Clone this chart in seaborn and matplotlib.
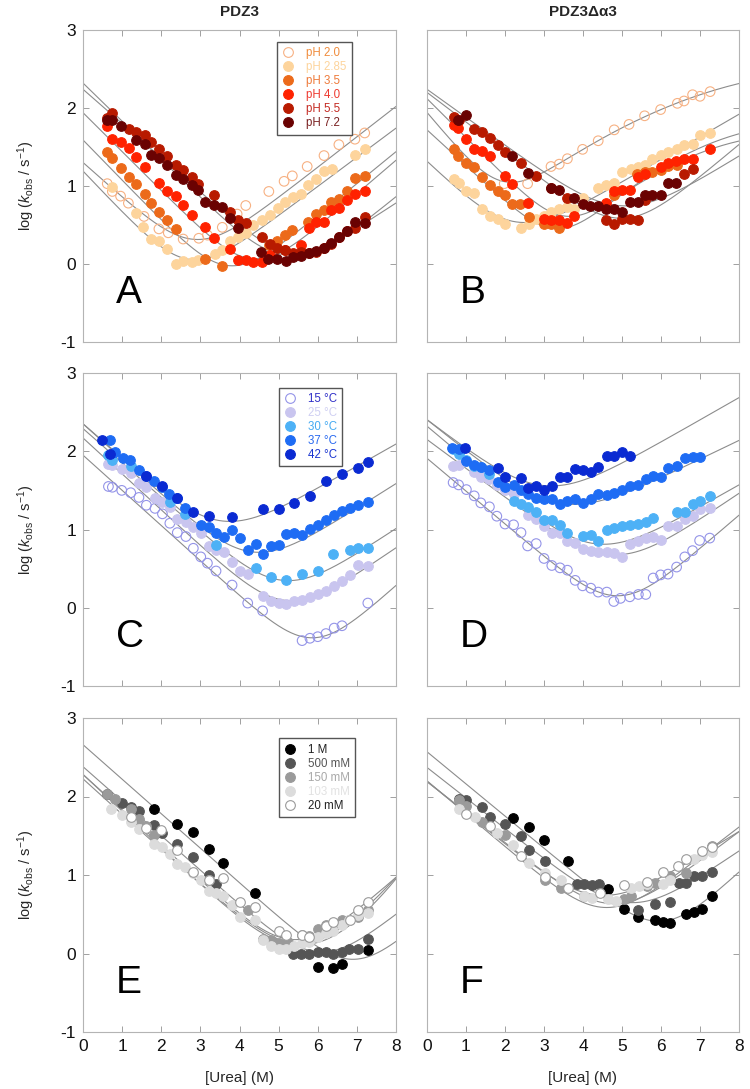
import numpy as np
import matplotlib
matplotlib.use("Agg")
import matplotlib.pyplot as plt
import seaborn as sns
from matplotlib.lines import Line2D

sns.set_theme(style="white")
plt.rcParams['font.family'] = ['Liberation Sans', 'DejaVu Sans']
plt.rcParams['mathtext.fontset'] = 'custom'
plt.rcParams['mathtext.rm'] = 'Liberation Sans'
plt.rcParams['mathtext.it'] = 'Liberation Sans:italic'

# ---------------- data: panel A (PDZ3, pH) ----------------
A_ph20_x = [0.62,0.75,0.96,1.16,1.56,1.94,2.18,2.56,2.96,3.18,3.56,3.94,4.16,4.75,5.14,5.35,5.73,6.16,6.54,6.95,7.20]
A_ph20_y = [1.03,0.93,0.87,0.78,0.61,0.45,0.40,0.32,0.33,0.37,0.47,0.64,0.75,0.93,1.06,1.13,1.25,1.39,1.53,1.60,1.68]
A_ph285_x = [0.75,1.36,1.53,1.75,1.94,2.15,2.37,2.56,2.78,2.95,3.37,3.56,3.75,3.97,4.16,4.34,4.57,4.77,4.99,5.16,5.37,5.56,5.76,5.96,6.16,6.37,6.95,7.20]
A_ph285_y = [0.99,0.65,0.47,0.32,0.30,0.19,0.00,0.04,0.02,0.05,0.13,0.18,0.29,0.35,0.40,0.50,0.57,0.63,0.72,0.80,0.86,0.90,1.01,1.09,1.19,1.22,1.40,1.47]
A_ph35_x = [0.62,0.75,0.96,1.18,1.36,1.58,1.75,1.94,2.15,2.37,3.13,3.54,4.75,4.97,5.16,5.35,5.76,5.96,6.16,6.35,6.54,6.74,6.95,7.20]
A_ph35_y = [1.43,1.36,1.23,1.11,1.03,0.90,0.78,0.67,0.57,0.45,0.06,-0.03,0.24,0.29,0.37,0.43,0.54,0.64,0.69,0.80,0.83,0.93,1.10,1.13]
A_ph40_x = [0.62,0.75,0.96,1.18,1.36,1.58,1.94,2.15,2.37,2.56,2.78,3.13,3.35,3.75,3.97,4.16,4.34,4.57,4.77,5.16,5.56,5.78,5.96,6.16,6.35,6.54,6.74,6.95,7.20]
A_ph40_y = [1.77,1.60,1.56,1.49,1.37,1.25,1.04,0.94,0.87,0.76,0.63,0.48,0.33,0.19,0.05,0.05,0.02,0.03,0.12,0.18,0.24,0.46,0.54,0.54,0.69,0.72,0.82,0.90,0.94]
A_ph55_x = [0.62,0.75,1.18,1.36,1.58,1.75,1.94,2.15,2.37,2.56,2.78,2.95,3.35,3.75,3.97,4.16,4.57,4.77,4.97,5.16,5.37,5.56,5.78,5.96,6.16,6.35,6.54,6.74,6.95,7.20]
A_ph55_y = [1.87,1.93,1.73,1.69,1.66,1.57,1.47,1.38,1.27,1.21,1.12,1.03,0.89,0.67,0.57,0.52,0.34,0.26,0.20,0.18,0.14,0.15,0.14,0.16,0.20,0.26,0.35,0.42,0.46,0.60]
A_ph72_x = [0.62,0.75,0.96,1.36,1.58,1.75,1.94,2.15,2.37,2.56,2.78,2.95,3.13,3.35,3.56,3.75,3.97,4.54,4.74,4.97,5.18,5.37,5.56,5.78,5.96,6.16,6.35,6.54,6.74,6.95,7.20]
A_ph72_y = [1.85,1.85,1.77,1.59,1.54,1.40,1.36,1.27,1.14,1.09,1.01,0.95,0.79,0.76,0.73,0.59,0.46,0.15,0.07,0.06,0.04,0.09,0.10,0.14,0.17,0.21,0.27,0.35,0.42,0.54,0.53]
# chevron fit parameters (log kf0, mf, log ku0, mu, mu2)
A_fits = [[1.30,0.45,-1.10,0.39,0.0],[1.19,0.53,-1.25,0.374,0.0],[1.59,0.516,-1.84,0.41,0.0],
          [1.94,0.50,-2.11,0.43,0.0],[2.24,0.44,-2.42,0.41,0.0],[2.32,0.49,-1.86,0.33,0.0]]

# ---------------- panel B (PDZ3Δα3, pH) ----------------
B_ph20_x = [1.98,2.58,3.18,3.39,3.60,3.99,4.39,4.80,5.18,5.58,5.99,6.42,6.59,6.81,7.00,7.26]
B_ph20_y = [1.03,1.03,1.25,1.28,1.35,1.47,1.58,1.72,1.79,1.90,1.98,2.06,2.09,2.17,2.15,2.21]
B_ph285_x = [0.68,0.83,1.00,1.21,1.40,1.62,1.81,2.00,2.41,2.62,2.79,2.99,3.18,3.39,3.60,3.77,3.99,4.39,4.59,4.80,5.01,5.23,5.40,5.58,5.78,5.99,6.18,6.42,6.59,6.81,7.00,7.26]
B_ph285_y = [1.09,1.04,0.93,0.91,0.70,0.62,0.58,0.51,0.46,0.51,0.58,0.62,0.67,0.71,0.73,0.71,0.84,0.97,1.01,1.04,1.18,1.22,1.24,1.27,1.35,1.40,1.43,1.47,1.53,1.54,1.65,1.68]
B_ph35_x = [0.68,0.79,1.00,1.21,1.40,1.62,1.81,2.00,2.19,2.39,2.62,3.01,3.19,3.39,4.80,5.38,5.58,5.78,5.99,6.18,6.42]
B_ph35_y = [1.48,1.38,1.29,1.24,1.12,1.01,0.94,0.88,0.77,0.77,0.60,0.51,0.51,0.46,0.88,1.15,1.18,1.18,1.20,1.26,1.27]
B_ph40_x = [0.68,0.79,1.00,1.21,1.40,1.62,2.00,2.19,2.60,2.99,3.19,3.39,3.60,3.77,4.59,4.80,5.01,5.21,5.40,5.58,5.99,6.18,6.38,6.59,6.81,7.26]
B_ph40_y = [1.78,1.74,1.60,1.47,1.45,1.39,1.13,1.03,0.78,0.58,0.56,0.56,0.53,0.62,0.78,0.94,0.95,0.95,1.12,1.15,1.25,1.30,1.32,1.35,1.35,1.47]
B_ph55_x = [0.68,0.83,1.21,1.40,1.62,1.81,2.00,2.41,2.79,3.19,3.60,4.59,4.80,5.01,5.21,5.40,5.58,6.59,6.81]
B_ph55_y = [1.89,1.85,1.73,1.69,1.62,1.53,1.44,1.29,1.13,0.97,0.84,0.56,0.51,0.58,0.58,0.56,0.82,1.15,1.22]
B_ph72_x = [0.79,1.00,2.19,2.60,3.18,3.39,3.77,3.99,4.19,4.39,4.59,4.80,5.01,5.21,5.40,5.58,5.78,5.99,6.18,6.38]
B_ph72_y = [1.84,1.91,1.38,1.17,0.97,0.95,0.84,0.77,0.74,0.74,0.70,0.70,0.67,0.80,0.80,0.88,0.88,0.88,1.04,1.04]
B_fits = [[1.94,0.60,-0.115,0.486,-0.0228],[1.31,0.48,-0.40,0.29,0.0],[1.72,0.46,-2.11,0.806,-0.0417],
          [2.12,0.50,-1.896,0.754,-0.04],[2.20,0.38,-1.83,0.42,0.0],[2.24,0.36,-1.10,0.31,0.0]]

# ---------------- panel C (PDZ3, temperature) ----------------
C_t15_x = [0.65,0.75,0.99,1.22,1.43,1.62,1.84,2.03,2.22,2.41,2.63,2.82,3.01,3.18,3.40,3.81,4.21,4.59,5.60,5.80,6.00,6.21,6.42,6.62,7.28]
C_t15_y = [1.55,1.54,1.50,1.47,1.41,1.31,1.27,1.20,1.08,0.96,0.91,0.76,0.65,0.57,0.47,0.29,0.06,-0.04,-0.42,-0.39,-0.37,-0.33,-0.26,-0.23,0.06]
C_t25_x = [0.65,0.75,0.99,1.22,1.43,1.62,1.84,2.03,2.22,2.41,2.63,2.82,3.01,3.21,3.40,3.61,3.81,4.01,4.21,4.59,4.80,5.02,5.20,5.40,5.60,5.80,6.00,6.21,6.42,6.62,6.83,7.02,7.28]
C_t25_y = [1.84,1.83,1.77,1.72,1.59,1.54,1.40,1.35,1.29,1.13,1.09,1.03,0.95,0.79,0.74,0.71,0.59,0.47,0.43,0.15,0.09,0.06,0.05,0.08,0.10,0.14,0.18,0.22,0.28,0.34,0.42,0.54,0.53]
C_t30_x = [0.65,0.75,1.22,2.22,2.61,3.40,4.42,4.80,5.20,5.60,6.00,6.40,6.83,7.02,7.28]
C_t30_y = [1.95,1.89,1.81,1.35,1.20,0.80,0.51,0.39,0.36,0.43,0.47,0.69,0.74,0.76,0.76]
C_t37_x = [0.68,0.82,1.01,1.19,1.42,1.60,1.82,2.01,2.20,2.41,2.61,3.01,3.21,3.41,3.61,3.81,4.01,4.21,4.42,4.59,4.80,5.02,5.20,5.40,5.60,5.80,6.00,6.21,6.42,6.62,6.83,7.02,7.28]
C_t37_y = [2.14,1.99,1.92,1.89,1.76,1.69,1.62,1.54,1.45,1.40,1.28,1.06,1.03,0.95,0.91,0.99,0.89,0.74,0.81,0.69,0.79,0.80,0.94,0.96,0.93,1.01,1.06,1.12,1.18,1.24,1.28,1.31,1.35]
C_t42_x = [0.48,0.68,1.60,2.01,2.41,2.80,3.21,3.81,4.59,5.02,5.40,5.80,6.21,6.62,7.02,7.28]
C_t42_y = [2.15,1.96,1.69,1.55,1.40,1.23,1.17,1.16,1.26,1.26,1.34,1.43,1.62,1.71,1.79,1.86]
C_fits = [[1.95,0.45,-3.32,0.45,0.0],[2.17,0.46,-1.98,0.343,0.0],[2.29,0.44,-1.63,0.33,0.0],
          [2.35,0.45,-0.95,0.317,0.0],[2.35,0.44,-0.18,0.284,0.0]]

# ---------------- panel D (PDZ3Δα3, temperature) ----------------
D_t15_x = [0.67,0.81,1.01,1.21,1.38,1.60,1.79,2.00,2.22,2.41,2.58,2.80,3.00,3.20,3.41,3.60,3.80,3.99,4.20,4.39,4.61,4.79,4.96,5.20,5.42,5.61,5.80,5.99,6.18,6.40,6.61,6.81,6.99,7.25]
D_t15_y = [1.60,1.57,1.51,1.43,1.34,1.29,1.17,1.07,1.06,0.96,0.79,0.82,0.63,0.54,0.51,0.48,0.35,0.28,0.25,0.20,0.20,0.08,0.12,0.14,0.17,0.17,0.38,0.42,0.43,0.52,0.65,0.73,0.86,0.89]
D_t25_x = [0.67,0.81,1.21,1.38,1.60,1.79,2.00,2.22,2.41,2.58,2.80,3.00,3.20,3.41,3.60,3.80,3.99,4.20,4.39,4.61,4.79,4.99,5.20,5.42,5.61,5.80,5.99,6.18,6.40,6.61,6.81,6.99,7.25]
D_t25_y = [1.81,1.83,1.73,1.67,1.64,1.57,1.50,1.45,1.33,1.18,1.14,1.05,0.96,0.96,0.85,0.83,0.75,0.73,0.71,0.71,0.70,0.65,0.82,0.85,0.89,0.90,0.87,1.05,1.05,1.14,1.17,1.26,1.28]
D_t30_x = [0.67,0.81,1.01,1.21,1.38,1.60,2.22,2.41,2.58,2.80,3.00,3.20,3.41,3.60,3.99,4.20,4.39,4.61,4.79,4.99,5.20,5.42,5.61,5.80,6.40,6.61,6.81,6.99,7.25]
D_t30_y = [2.03,1.96,1.89,1.81,1.80,1.71,1.37,1.33,1.29,1.22,1.12,1.12,1.06,0.96,0.92,0.93,0.85,0.99,1.02,1.05,1.06,1.07,1.09,1.15,1.22,1.23,1.33,1.37,1.43]
D_t37_x = [0.64,0.81,1.01,1.21,1.38,1.60,1.81,2.00,2.22,2.41,2.58,2.80,3.00,3.20,3.41,3.60,3.80,3.99,4.20,4.39,4.61,4.79,4.99,5.20,5.42,5.61,5.80,5.99,6.18,6.40,6.61,6.81,6.99]
D_t37_y = [2.04,2.03,1.87,1.83,1.80,1.76,1.61,1.54,1.57,1.51,1.46,1.40,1.39,1.39,1.32,1.36,1.39,1.34,1.39,1.45,1.44,1.47,1.50,1.56,1.57,1.64,1.68,1.67,1.79,1.81,1.91,1.93,1.93]
D_t42_x = [0.98,1.81,2.00,2.41,2.60,2.80,3.00,3.20,3.41,3.60,3.80,3.99,4.20,4.39,4.61,4.79,4.99,5.20]
D_t42_y = [2.04,1.78,1.67,1.66,1.53,1.56,1.51,1.56,1.67,1.67,1.77,1.76,1.74,1.80,1.94,1.94,1.99,1.94]
D_fits = [[1.91,0.42,-2.25,0.429,0.0],[2.15,0.37,-1.24,0.3375,0.0],[2.32,0.42,-0.695,0.283,0.0],
          [2.40,0.40,0.21,0.241,0.0],[2.40,0.38,0.405,0.285,0.0]]

# ---------------- panel E (PDZ3, salt) ----------------
E_1M_x = [1.82,2.40,2.82,3.21,3.59,4.40,6.00,6.40,6.62,7.28]
E_1M_y = [1.84,1.65,1.55,1.33,1.15,0.77,-0.17,-0.18,-0.13,0.04]
E_500_x = [0.62,0.99,1.22,1.43,1.82,2.01,2.40,2.82,3.21,3.40,5.36,5.57,5.78,6.00,6.21,6.40,6.62,6.81,7.02,7.28]
E_500_y = [2.03,1.92,1.86,1.81,1.64,1.53,1.40,1.23,1.00,0.89,0.00,0.00,0.00,0.02,0.02,0.00,0.02,0.06,0.06,0.19]
E_150_x = [0.62,0.82,1.22,1.42,1.60,1.82,3.21,4.21,4.59,4.80,5.02,5.23,5.61,5.78,6.00,6.21,6.40,6.62,6.81,7.02,7.28]
E_150_y = [2.03,1.97,1.84,1.71,1.63,1.51,0.94,0.56,0.19,0.17,0.14,0.15,0.23,0.22,0.31,0.36,0.35,0.43,0.43,0.47,0.55]
E_103_x = [0.71,0.99,1.22,1.42,1.82,2.01,2.22,2.41,2.61,2.82,3.01,3.21,3.40,3.59,3.81,4.00,4.40,4.59,4.80,5.02,5.20,5.40,5.60,5.78,6.00,6.21,6.40,6.62,6.81,7.02,7.28]
E_103_y = [1.84,1.77,1.68,1.58,1.40,1.36,1.27,1.14,1.10,1.03,0.94,0.80,0.77,0.73,0.62,0.47,0.43,0.17,0.09,0.06,0.06,0.09,0.14,0.15,0.21,0.26,0.29,0.36,0.43,0.49,0.52]
E_20_x = [1.22,1.60,1.99,2.41,2.82,3.21,3.59,4.01,4.40,5.02,5.20,5.60,5.78,6.21,6.40,6.83,7.02,7.28]
E_20_y = [1.74,1.60,1.57,1.32,1.04,0.94,0.96,0.66,0.59,0.29,0.23,0.23,0.21,0.35,0.40,0.43,0.56,0.66]
E_fits = [[2.66,0.44,-3.41,0.44,0.0],[2.38,0.44,-2.67,0.395,0.0],[2.28,0.47,-0.188,-0.261,0.0507],
          [2.21,0.45,0.757,-0.56,0.073],[2.28,0.45,-1.888,0.277,0.01]]

# ---------------- panel F (PDZ3Δα3, salt) ----------------
F_1M_x = [2.21,2.61,3.00,3.62,4.64,5.04,5.42,5.84,6.04,6.24,6.63,6.84,7.06,7.31]
F_1M_y = [1.72,1.61,1.45,1.18,0.82,0.57,0.46,0.43,0.40,0.39,0.50,0.53,0.57,0.73]
F_500_x = [0.81,1.00,1.41,1.61,2.01,2.40,2.61,3.02,3.84,4.03,4.22,4.41,5.42,5.84,6.24,6.45,6.64,6.84,7.06,7.31]
F_500_y = [1.97,1.96,1.86,1.74,1.65,1.50,1.32,1.18,0.89,0.89,0.87,0.89,0.56,0.63,0.66,0.90,0.90,0.99,0.99,1.04]
F_150_x = [0.81,1.00,1.41,2.01,3.02,3.43,4.03,5.04,5.24,5.64,5.84,6.24,6.64,7.31]
F_150_y = [1.95,1.88,1.68,1.51,0.94,0.84,0.73,0.70,0.73,0.86,0.90,0.99,1.03,1.37]
F_103_x = [0.81,1.22,1.80,2.21,2.61,3.02,3.43,4.03,4.24,4.64,4.84,5.24,5.44,5.64,6.04,6.24,6.84,7.06,7.31]
F_103_y = [1.84,1.74,1.53,1.38,1.15,1.03,0.94,0.73,0.71,0.70,0.67,0.83,0.86,0.89,0.89,0.94,1.21,1.26,1.29]
F_20_x = [1.00,1.61,2.40,3.02,3.62,4.44,5.04,5.64,6.04,6.44,6.64,7.06,7.31]
F_20_y = [1.78,1.63,1.24,0.98,0.83,0.77,0.87,0.91,1.04,1.11,1.21,1.30,1.36]
F_fits = [[2.57,0.41,-2.65,0.46,0.0],[2.37,0.39,-1.41,0.339,0.0],[2.19,0.39,-1.45,0.375,0.0],
          [2.20,0.42,-1.47,0.385,0.0],[2.19,0.40,-0.895,0.306,0.0]]

# ---------------- labels ----------------
ph_labels = ["pH 2.0", "pH 2.85", "pH 3.5", "pH 4.0", "pH 5.5", "pH 7.2"]
temp_labels = ["15 °C", "25 °C", "30 °C", "37 °C", "42 °C"]
salt_labels = ["1 M", "500 mM", "150 mM", "103 mM", "20 mM"]
x_ticks = [0, 1, 2, 3, 4, 5, 6, 7, 8]
y_ticks = [-1, 0, 1, 2, 3]

# styles: (face, edge, legend text colour)
ph_styles = [("none", "#f7b183", "#f08c3c"), ("#fdd49c", "#fdd49c", "#fdd49c"),
             ("#ec6a1a", "#ec6a1a", "#ee7a3a"), ("#ff2200", "#ff2200", "#ee3a30"),
             ("#b81a00", "#b81a00", "#c42a22"), ("#6a0202", "#6a0202", "#7a2020")]
temp_styles = [("none", "#9494e8", "#3030c8"), ("#c9c5ef", "#c9c5ef", "#cfcff2"),
               ("#4db1f6", "#4db1f6", "#45aaf2"), ("#1e6cf4", "#1e6cf4", "#2a6af0"),
               ("#0a2ad2", "#0a2ad2", "#1a35d0")]
salt_styles = [("#000000", "#000000", "#222222"), ("#555555", "#555555", "#555555"),
               ("#9a9a9a", "#9a9a9a", "#a8a8a8"), ("#dcdcdc", "#dcdcdc", "#e2e2e2"),
               ("#ffffff", "#9a9a9a", "#222222")]

panels = {
    "A": ([(A_ph20_x, A_ph20_y), (A_ph285_x, A_ph285_y), (A_ph35_x, A_ph35_y), (A_ph40_x, A_ph40_y),
           (A_ph55_x, A_ph55_y), (A_ph72_x, A_ph72_y)], A_fits, ph_styles, ph_labels),
    "B": ([(B_ph20_x, B_ph20_y), (B_ph285_x, B_ph285_y), (B_ph35_x, B_ph35_y), (B_ph40_x, B_ph40_y),
           (B_ph55_x, B_ph55_y), (B_ph72_x, B_ph72_y)], B_fits, ph_styles, None),
    "C": ([(C_t15_x, C_t15_y), (C_t25_x, C_t25_y), (C_t30_x, C_t30_y), (C_t37_x, C_t37_y),
           (C_t42_x, C_t42_y)], C_fits, temp_styles, temp_labels),
    "D": ([(D_t15_x, D_t15_y), (D_t25_x, D_t25_y), (D_t30_x, D_t30_y), (D_t37_x, D_t37_y),
           (D_t42_x, D_t42_y)], D_fits, temp_styles, None),
    "E": ([(E_1M_x, E_1M_y), (E_500_x, E_500_y), (E_150_x, E_150_y), (E_103_x, E_103_y),
           (E_20_x, E_20_y)], E_fits, salt_styles, salt_labels),
    "F": ([(F_1M_x, F_1M_y), (F_500_x, F_500_y), (F_150_x, F_150_y), (F_103_x, F_103_y),
           (F_20_x, F_20_y)], F_fits, salt_styles, None),
}


def chevron(x, p):
    a, b, c, d, e = p
    return np.log10(10 ** (a - b * x) + 10 ** (c + d * x + e * x * x))


W, H = 750, 1089
fig = plt.figure(figsize=(W / 100, H / 100), dpi=100)
cols = [(83, 313), (427, 312)]
rows = [(30, 342), (373, 686), (718, 1032)]
layout = {"A": (0, 0), "B": (1, 0), "C": (0, 1), "D": (1, 1), "E": (0, 2), "F": (1, 2)}
legend_pos = {"A": (0.62, 0.962), "C": (0.625, 0.953), "E": (0.625, 0.935)}

xg = np.linspace(0, 8, 400)
for key, (series, fits, styles, labels) in panels.items():
    ci, ri = layout[key]
    x0, w = cols[ci]
    top, bot = rows[ri]
    ax = fig.add_axes([x0 / W, 1 - bot / H, w / W, (bot - top) / H])

    for p in fits:
        sns.lineplot(x=xg, y=chevron(xg, p), ax=ax, color="#8c8c8c", lw=0.8,
                     estimator=None, legend=False, zorder=1)
    for (xs, ys), (fc, ec, _) in zip(series, styles):
        if fc == "none":
            sns.scatterplot(x=xs, y=ys, ax=ax, s=48, facecolors="none", edgecolor=ec,
                            linewidth=0.8, legend=False, zorder=3)
        else:
            sns.scatterplot(x=xs, y=ys, ax=ax, s=48, color=fc, edgecolor=ec,
                            linewidth=0.8, legend=False, zorder=3)

    ax.set_xlim(0, 8)
    ax.set_ylim(-1, 3)
    ax.set_xticks(x_ticks)
    ax.set_yticks(y_ticks)
    for sp in ax.spines.values():
        sp.set_color("#b4b4b4")
        sp.set_linewidth(0.8)
    ax.tick_params(direction="in", length=4, width=0.7, color="#a0a0a0",
                   top=True, right=True, left=True, bottom=True,
                   labelsize=12.5, labelcolor="#111111", pad=5)
    if ci == 1:
        ax.tick_params(labelleft=False)
    else:
        ax.set_ylabel(r"log ($k_{\rm obs}$ / s$^{-1}$)", fontsize=10.5, labelpad=17)
    if ri != 2:
        ax.tick_params(labelbottom=False)
    else:
        ax.set_xlabel("[Urea] (M)", fontsize=11, labelpad=12)
    ax.set_yticklabels([str(v) for v in y_ticks])

    ax.text(0.105, 0.125, key, transform=ax.transAxes, fontsize=28, color="black",
            ha="left", va="baseline")

    if labels is not None:
        handles = []
        for (fc, ec, _) in styles:
            handles.append(Line2D([], [], ls="", marker="o", markersize=7,
                                  markerfacecolor=("none" if fc == "none" else fc),
                                  markeredgecolor=ec, markeredgewidth=0.8))
        leg = ax.legend(handles, labels, loc="upper left", bbox_to_anchor=legend_pos[key],
                        fontsize=8.3, frameon=True, fancybox=False, framealpha=1,
                        edgecolor="#555555", borderpad=0.45, labelspacing=0.18,
                        handlelength=1.0, handletextpad=1.1, borderaxespad=0)
        leg.get_frame().set_linewidth(1.0)
        for txt, (_, _, tc) in zip(leg.get_texts(), styles):
            txt.set_color(tc)

fig.text((83 + 313 / 2) / W, 1 - 12 / H, "PDZ3", ha="center", va="center",
         fontsize=11, fontweight="bold")
fig.text((427 + 312 / 2) / W, 1 - 12 / H, "PDZ3Δα3", ha="center", va="center",
         fontsize=11, fontweight="bold")

fig.savefig("out.png", dpi=100)
